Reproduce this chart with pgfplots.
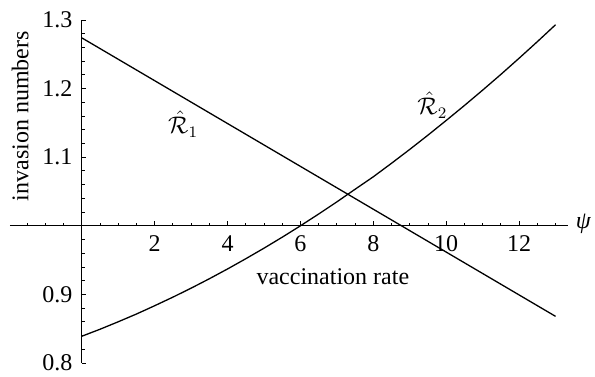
\documentclass[border=0pt]{standalone}
\usepackage{pgfplots}
\pgfplotsset{compat=1.18}
\usepackage{fontspec}
\setmainfont{Liberation Serif}
\begin{document}
\fontsize{12}{14}\selectfont
\begin{tikzpicture}
\useasboundingbox (-5pt,-6.5pt) rectangle (292.5pt,181.5pt);
\begin{axis}[
  scale only axis, width=279.15pt, height=171.5pt,
  at={(0,0)}, anchor=south west,
  y coord trafo/.code={\pgfmathparse{#1-1}},
  axis lines=middle, axis line style={-, line width=0.5pt},
  enlargelimits=false, clip=false,
  xmin=-1.97, xmax=13.35, ymin=0.8, ymax=1.3,
  xtick={2,4,6,8,10,12},
  minor xtick={-1.5,-1,-0.5,0.5,1,1.5,2.5,3,3.5,4.5,5,5.5,6.5,7,7.5,8.5,9,9.5,10.5,11,11.5,12.5,13},
  ytick={0.8,0.9,1.1,1.2,1.3},
  yticklabels={0.8,0.9,1.1,1.2,1.3},
  minor ytick={0.82,0.84,0.86,0.88,0.92,0.94,0.96,0.98,1.02,1.04,1.06,1.08,1.12,1.14,1.16,1.18,1.22,1.24,1.26,1.28},
  tick align=inside,
  major tick length=2.2pt, minor tick length=1.4pt,
  tick style={black, line width=0.45pt},
  /pgf/number format/assume math mode=true,
  ticklabel style={font=\fontsize{12}{14}\selectfont},
  xticklabel style={yshift=-0.5pt},
  yticklabel style={xshift=-0.5pt},
]
\addplot[black, line width=0.65pt] coordinates {(0,1.274) (13,0.868)};
\addplot[black, line width=0.65pt] coordinates {
(0,0.839) (0.5,0.8492) (1,0.8601) (1.5,0.8714) (2,0.8835) (2.5,0.8960)
(3,0.9091) (3.5,0.9228) (4,0.9371) (4.5,0.9520) (5,0.9674) (5.5,0.9834)
(6,1.0000) (6.5,1.0172) (7,1.0349) (7.5,1.0533) (8,1.0715) (8.5,1.0912)
(9,1.1114) (9.5,1.1322) (10,1.1536) (10.5,1.1754) (11,1.1978) (11.5,1.2207)
(12,1.2443) (12.5,1.2684) (13,1.2931)};
\node[rotate=90] at (axis cs:-1.69,1.16) {invasion numbers};
\node at (axis cs:6.89,0.926) {vaccination rate};
\node[anchor=west, inner sep=0pt] at (axis cs:13.55,1.003) {\textit{ψ}};
\node at (axis cs:2.78,1.148) {$\hat{\mathcal{R}}_1$};
\node at (axis cs:9.62,1.176) {$\hat{\mathcal{R}}_2$};
\end{axis}
\end{tikzpicture}
\end{document}
